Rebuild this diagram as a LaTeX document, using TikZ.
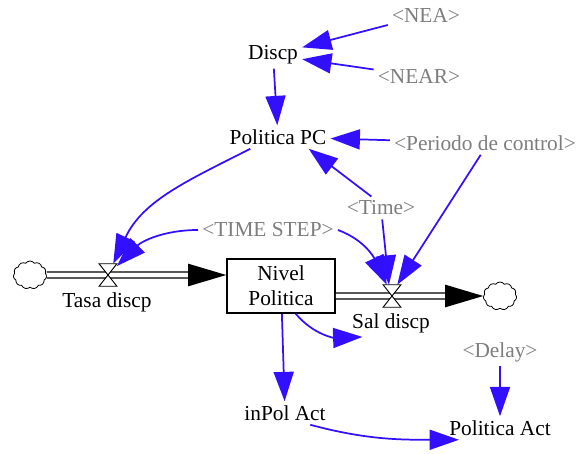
\documentclass[tikz,border=0pt]{standalone}
\usepackage{fontspec}
\setmainfont{Liberation Serif}
\usepackage{tikz}
\usetikzlibrary{arrows.meta,shapes.symbols}
\definecolor{linkblue}{RGB}{50,15,255}
\definecolor{shadowgray}{RGB}{125,125,125}

\begin{document}
\begin{tikzpicture}[x=0.75pt,y=0.75pt,
  var/.style={inner sep=3pt,font=\fontsize{16}{18.5}\selectfont},
  shadowvar/.style={var,text=shadowgray},
  stock/.style={var,draw,line width=1.2pt,minimum width=81pt,minimum height=40.5pt,align=center},
  valve/.style={inner sep=0pt,minimum width=13pt,minimum height=16.5pt},
  sink/.style={cloud,cloud puffs=11,cloud puff arc=110,aspect=1.2,draw,line width=0.6pt,minimum width=25pt,minimum height=21pt,inner sep=0pt},
  pipe/.style={double,double distance=3.5pt,line width=0.9pt},
  link/.style={draw=linkblue,line width=1.3pt,-{Triangle[length=22pt,width=15pt]}}]
\useasboundingbox (0,0) rectangle (577,-453);

\node[var] (discp) at (273,-55) {Discp};
\node[shadowvar] (nea) at (426,-15) {<NEA>};
\node[shadowvar] (near) at (419,-76) {<NEAR>};
\node[var] (pc) at (278,-137) {Politica PC};
\node[shadowvar] (per) at (485,-143) {<Periodo de control>};
\node[shadowvar] (time) at (381,-208) {<Time>};
\node[shadowvar] (tstep) at (268,-230) {<TIME STEP>};

\node[stock] (nivel) at (281,-286) {Nivel\\Politica};
\node[sink] (cloudL) at (30,-275) {};
\node[valve] (tasav) at (108,-275) {};
\node[var] (tasa) at (107,-302) {Tasa discp};
\node[valve] (salv) at (392,-296) {};
\node[var] (sal) at (391,-323) {Sal discp};
\node[sink] (cloudR) at (500,-296) {};

\node[var] (inpol) at (285,-413) {inPol Act};
\node[var] (polact) at (500,-428) {Politica Act};
\node[shadowvar] (delay) at (500,-352) {<Delay>};

\coordinate (lin) at (nivel.west |- tasav);
\coordinate (rout) at (nivel.east |- salv);
\draw[pipe] (cloudL.east) -- ([xshift=-27pt]lin);
\fill (lin) -- ++(-28.5pt,8.5pt) -- ++(0,-17pt) -- cycle;
\draw[pipe] (rout) -- ([xshift=-27pt]cloudR.west);
\fill (cloudR.west) -- ++(-28.5pt,8.5pt) -- ++(0,-17pt) -- cycle;

\foreach \v in {tasav,salv}
  \filldraw[fill=white,line width=0.7pt] (\v.north west) -- (\v.north east) -- (\v.south west) -- (\v.south east) -- cycle;

\draw[link] (nea) -- (discp);
\draw[link] (near) -- (discp);
\draw[link] (discp) -- (pc);
\draw[link] (per) -- (pc);
\draw[link] (time.130) -- (pc.-21);
\draw[link] (time) -- (salv.105);
\draw[link] (per.-110) -- (salv.65);
\draw[link] (tstep.east) to[out=-20,in=115] (salv);
\draw[link] (tstep.west) to[out=180,in=45] (tasav);
\draw[link] (pc.-157) to[out=207,in=65] (tasav);
\draw[link] (nivel.-62) to[out=-50,in=182] (sal.206);
\draw[link] (nivel) -- (inpol);
\draw[link] (inpol.-25) to[out=-15,in=180] (polact.196);
\draw[link] (delay) -- (polact);

\end{tikzpicture}
\end{document}
